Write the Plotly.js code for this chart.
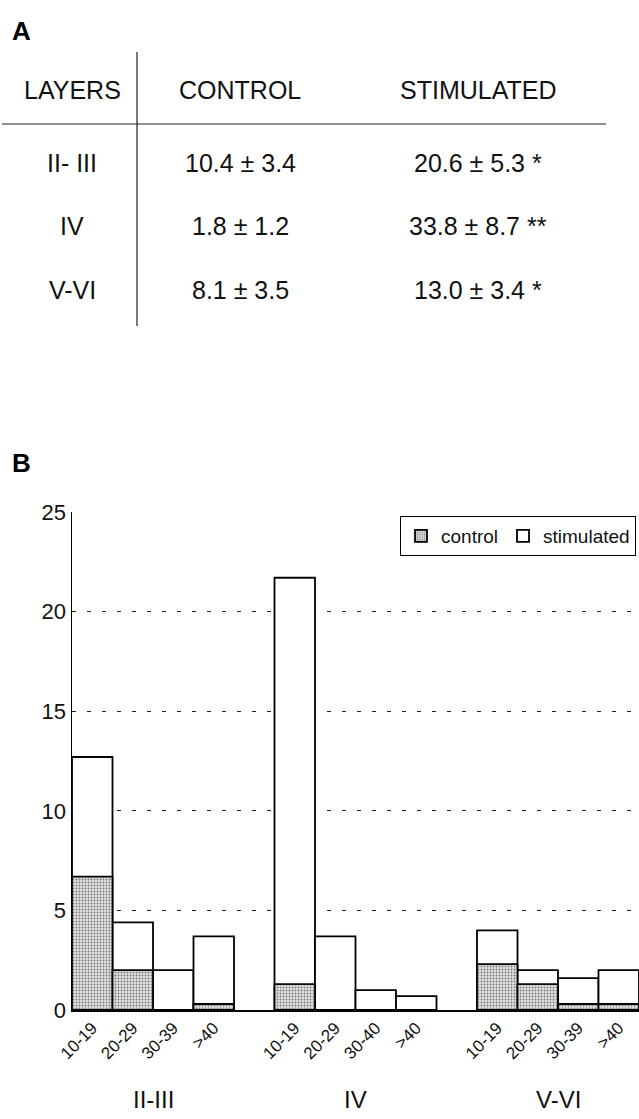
<!DOCTYPE html>
<html>
<head>
<meta charset="utf-8">
<script src="https://cdn.plot.ly/plotly-3.0.1.min.js"></script>
<style>html,body{margin:0;padding:0;background:#fff;}#chart{width:639px;height:1119px;}</style>
</head>
<body>
<div id="chart"></div>
<script>
// ---- Data ----
const layers = ['II-III', 'IV', 'V-VI'];
const categories = ['10-19', '20-29', '30-39', '>40',
                    '10-19', '20-29', '30-40', '>40',
                    '10-19', '20-29', '30-39', '>40'];
const controlVals = [6.7, 2.0, 0, 0.3,
                     1.3, 0, 0, 0,
                     2.3, 1.3, 0.3, 0.3];
const stimulatedVals = [12.7, 4.4, 2.0, 3.7,
                        21.7, 3.7, 1.0, 0.7,
                        4.0, 2.0, 1.6, 2.0];
const yTicks = [0, 5, 10, 15, 20, 25];

const tableHeader = ['LAYERS', 'CONTROL', 'STIMULATED'];
const tableLayers = ['II- III', 'IV', 'V-VI'];
const tableControl = ['10.4 ± 3.4', '1.8 ± 1.2', '8.1 ± 3.5'];
const tableStimulated = ['20.6 ± 5.3 *', '33.8 ± 8.7 **', '13.0 ± 3.4 *'];

// ---- Layout helpers ----
const W = 639, H = 1119;
const px = x => x / W;
const py = y => 1 - y / H;
const FONT = 'Liberation Sans, Arial, Helvetica, sans-serif';

// positions: 4 bars per group, one empty slot between groups
const perGroup = 4;
const xPos = categories.map((c, i) => Math.floor(i / perGroup) * (perGroup + 1) + (i % perGroup));

const traces = [
  {
    type: 'bar', name: 'stimulated', x: xPos, y: stimulatedVals, width: 1,
    marker: {color: '#ffffff', line: {color: '#000', width: 1.8}},
    legendrank: 2, hoverinfo: 'skip'
  },
  {
    type: 'bar', name: 'control', x: xPos, y: controlVals, width: 1,
    marker: {color: '#777777', line: {color: '#000', width: 1.8},
             pattern: {shape: '.', bgcolor: '#e2e2e2', fgcolor: '#777777', size: 3, solidity: 0.3}},
    legendrank: 1, hoverinfo: 'skip'
  }
];

const annotations = [];
// panel letters
annotations.push({text: '<b>A</b>', x: px(10), y: py(31), xref: 'paper', yref: 'paper',
  xanchor: 'left', yanchor: 'middle', showarrow: false, font: {family: FONT, size: 26, color: '#000'}});
annotations.push({text: '<b>B</b>', x: px(10), y: py(463), xref: 'paper', yref: 'paper',
  xanchor: 'left', yanchor: 'middle', showarrow: false, font: {family: FONT, size: 26, color: '#000'}});

// table
const colX = [72, 240, 478];
const rowY = [163, 226, 290];
tableHeader.forEach((t, i) => annotations.push({text: t, x: px(colX[i]), y: py(90), xref: 'paper', yref: 'paper',
  xanchor: 'center', yanchor: 'middle', showarrow: false, font: {family: FONT, size: 25, color: '#111'}}));
const cols = [tableLayers, tableControl, tableStimulated];
cols.forEach((col, ci) => col.forEach((t, ri) => annotations.push({text: t, x: px(colX[ci]), y: py(rowY[ri]),
  xref: 'paper', yref: 'paper', xanchor: 'center', yanchor: 'middle', showarrow: false,
  font: {family: FONT, size: 25, color: '#111'}})));

// group labels under the axis
layers.forEach((l, g) => annotations.push({text: l, x: g * (perGroup + 1) + (perGroup - 1) / 2, xref: 'x',
  y: py(1099), yref: 'paper', xanchor: 'center', yanchor: 'middle', showarrow: false,
  font: {family: FONT, size: 24, color: '#111'}}));

const shapes = [
  {type: 'line', xref: 'paper', yref: 'paper', x0: px(137), x1: px(137), y0: py(52), y1: py(326),
   line: {color: '#222', width: 1.2}},
  {type: 'line', xref: 'paper', yref: 'paper', x0: px(2), x1: px(606), y0: py(124), y1: py(124),
   line: {color: '#222', width: 1.2}}
];

const layout = {
  width: W, height: H,
  margin: {l: 0, r: 0, t: 0, b: 0, pad: 0},
  paper_bgcolor: '#fff', plot_bgcolor: '#fff',
  barmode: 'overlay',
  showlegend: true,
  legend: {orientation: 'h', x: px(636), xanchor: 'right', y: py(516), yanchor: 'top',
           bordercolor: '#000', borderwidth: 1, bgcolor: '#fff',
           font: {family: FONT, size: 19, color: '#111'}, traceorder: 'normal',
           itemwidth: 30, tracegroupgap: 0},
  xaxis: {
    domain: [px(72), 1], range: [-0.5, 13.5], fixedrange: true,
    showline: true, linecolor: '#000', linewidth: 1.5, showgrid: false, zeroline: false,
    tickmode: 'array', tickvals: xPos, ticktext: categories, tickangle: -45, ticks: '',
    tickfont: {family: FONT, size: 17, color: '#111'}
  },
  yaxis: {
    domain: [py(1010), py(512)], range: [0, 25], fixedrange: true,
    showline: true, linecolor: '#000', linewidth: 1.5, zeroline: false,
    tickmode: 'array', tickvals: yTicks, ticks: '',
    showgrid: true, gridcolor: '#222', gridwidth: 1.2, griddash: '4px,11px',
    tickfont: {family: FONT, size: 22, color: '#111'}
  },
  annotations: annotations,
  shapes: shapes
};

Plotly.newPlot('chart', traces, layout, {staticPlot: true, displayModeBar: false});
</script>
</body>
</html>
